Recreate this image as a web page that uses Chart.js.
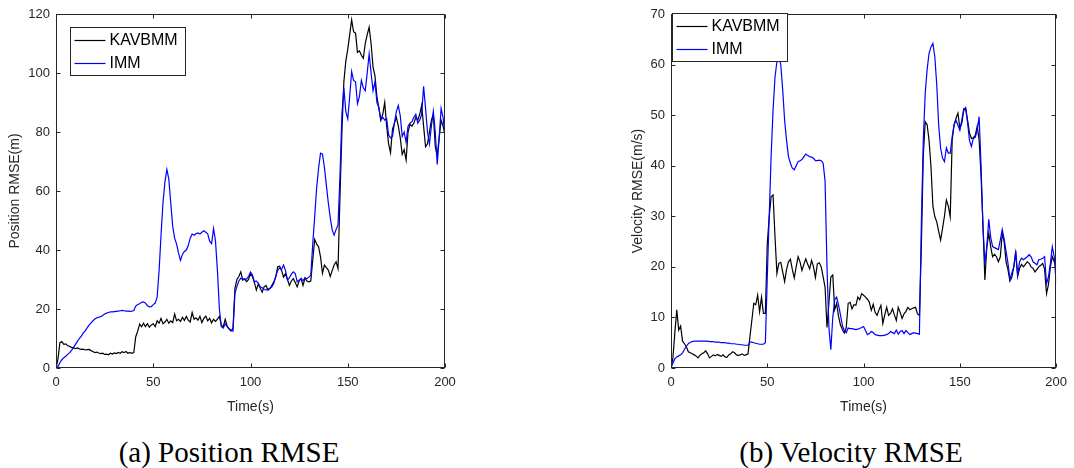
<!DOCTYPE html>
<html>
<head>
<meta charset="utf-8">
<title>RMSE comparison</title>
<script src="https://cdn.jsdelivr.net/npm/chart.js@4/dist/chart.umd.min.js"></script>
<style>
  body {
    margin: 0;
    background: #fff;
    width: 1074px;
    height: 468px;
    position: relative;
    overflow: hidden;
  }
  canvas {
    position: absolute;
    top: 0;
  }
  .caption {
    position: absolute;
    top: 436px;
    width: 400px;
    text-align: center;
    font-family: "Liberation Serif", "Times New Roman", serif;
    font-size: 29px;
    line-height: 33px;
    color: #000;
  }
</style>
</head>
<body>
<canvas id="posChart" width="537" height="430" style="left:0"></canvas>
<canvas id="velChart" width="537" height="430" style="left:537px"></canvas>
<div class="caption" style="left:29px">(a) Position RMSE</div>
<div class="caption" style="left:651px">(b) Velocity RMSE</div>

<script>
// sample times, one per second
const time = Array.from({ length: 201 }, (_, i) => i);

const seriesNames = ["KAVBMM", "IMM"];
const seriesColors = ["#000000", "#0000ff"];

// position RMSE (m)
const posKavbmm = [
  0, 3, 8.6, 9.0, 8.0, 8.2, 7.6, 7.3, 7.0, 6.8,
  6.6, 6.8, 6.5, 6.3, 6.4, 6.1, 6.2, 6.3, 5.9, 5.6,
  5.2, 5.4, 5.1, 4.9, 5.0, 4.6, 4.7, 4.5, 5.0, 4.7,
  5.1, 4.9, 5.3, 5.0, 5.5, 5.2, 5.6, 5.0, 5.3, 5.0,
  5.2, 10.6, 12.5, 14.9, 14.0, 15.2, 14.0, 15.0, 13.8, 14.6,
  15.0, 14.0, 16.0, 15.2, 16.8, 15.0, 15.6, 16.5, 15.2, 16.0,
  15.4, 18.3, 16.0, 16.5, 15.8, 17.2, 16.1, 17.5, 16.2, 15.6,
  18.8, 16.5, 17.0, 16.2, 17.5, 15.4, 16.8, 17.6, 16.0, 16.8,
  15.3, 16.5, 15.8, 16.6, 17.5, 14.5, 14.0, 16.5, 14.2, 13.2,
  12.5, 13.5, 27.0, 30.0, 31.0, 32.6, 29.8, 30.2, 29.2, 30.0,
  32.0, 31.0, 29.0, 26.4, 28.5, 27.0, 25.7, 27.5, 28.0, 26.4,
  27.0, 28.0, 29.2, 31.0, 34.3, 34.5, 33.0, 30.8, 32.0, 30.0,
  28.0, 29.5, 30.3, 29.0, 27.5, 29.5, 30.3, 28.0, 30.5, 29.5,
  29.2, 29.5, 36.6, 43.6, 42.0, 41.1, 37.7, 32.1, 34.9, 34.0,
  33.2, 31.0, 33.0, 34.9, 36.0, 33.7, 58.0, 80.0, 97.0, 104.0,
  108.0, 113.0, 118.0, 114.0, 113.5, 107.0, 107.5, 106.0, 105.0, 110.0,
  113.0, 115.5, 110.0, 102.0, 99.0, 92.0, 88.0, 84.0, 86.0, 90.0,
  82.0, 76.0, 73.0, 81.0, 83.0, 85.0, 82.0, 78.0, 72.4, 74.0,
  70.5, 80.0, 82.6, 82.0, 83.0, 85.0, 84.0, 86.0, 89.0, 82.0,
  75.0, 76.0, 80.0, 84.0, 86.0, 75.0, 72.0, 78.0, 84.0, 82.0,
  79.0
];
const posImm = [
  0, 0.5, 1.8, 2.8, 3.5, 4.0, 4.6, 5.2, 6.0, 7.0,
  8.0, 9.0, 10.0, 10.8, 11.8, 12.6, 13.6, 14.5, 15.3, 16.0,
  16.6, 17.0, 17.2, 17.4, 17.8, 18.3, 18.6, 18.8, 19.0, 19.0,
  19.1, 19.2, 19.3, 19.4, 19.5, 19.4, 19.3, 19.3, 19.2, 19.3,
  19.5, 21.0, 21.5, 21.8, 22.3, 22.4, 22.0, 21.2, 20.7, 20.8,
  21.5, 22.0, 24.0, 33.0, 45.0, 56.0, 63.0, 67.3, 64.0, 56.0,
  48.0, 44.0, 42.0, 39.0, 36.5, 38.5, 39.5, 40.0, 41.5, 44.0,
  45.4, 45.0, 45.6, 45.8, 45.4, 46.0, 46.5, 46.0, 45.5, 43.0,
  42.2, 47.3, 43.0, 33.0, 20.0, 14.0, 13.5, 15.0, 14.0, 13.4,
  12.8, 12.5, 25.3, 27.6, 29.5, 30.4, 30.2, 30.0, 30.2, 31.0,
  32.5, 31.5, 29.2, 29.5, 28.7, 27.5, 27.2, 26.6, 26.5, 26.8,
  27.0, 27.5, 28.7, 31.0, 33.2, 33.9, 33.5, 34.9, 33.0, 29.8,
  30.5, 31.8, 32.6, 32.0, 29.2, 29.8, 30.3, 29.6, 30.5, 30.3,
  30.8, 31.4, 42.0, 51.3, 61.0, 67.7, 72.8, 72.5, 68.0, 62.0,
  56.0, 51.0, 46.8, 45.0, 47.0, 48.5, 65.0, 86.0, 95.0, 87.0,
  84.4, 92.0, 100.5, 97.5, 97.0, 89.6, 92.0, 97.5, 95.0, 94.0,
  100.0, 106.5, 100.0, 94.0, 97.0, 90.0, 88.3, 84.0, 85.0, 84.0,
  84.5, 79.0, 78.0, 78.5, 83.0, 87.0, 89.0, 85.5, 78.5, 80.0,
  76.5, 82.0, 83.0, 83.5, 85.0, 86.0, 83.0, 84.0, 86.0, 95.5,
  88.0, 80.0, 76.0, 82.0, 87.0, 80.0, 69.0, 78.0, 88.0, 85.0,
  79.0
];

// velocity RMSE (m/s)
const velKavbmm = [
  0, 2.0, 7.0, 11.5, 7.5, 8.3, 5.3, 4.8, 4.2, 3.2,
  3.0, 2.8, 2.6, 2.4, 2.0, 2.5, 2.8, 3.0, 3.4, 2.8,
  2.0, 2.3, 2.6, 2.4, 2.7, 2.5, 2.3, 2.6, 2.2, 2.1,
  2.6, 2.8, 3.2, 3.0, 2.6, 2.5, 2.6, 2.8, 2.5, 2.6,
  2.8, 6.2, 9.5, 12.8, 12.5, 14.4, 11.1, 14.0, 10.8, 10.8,
  24.6, 29.9, 33.9, 34.2, 26.0, 18.7, 20.7, 20.9, 19.0, 17.1,
  19.5, 21.0, 21.5, 19.5, 17.8, 20.0, 22.0, 21.0, 19.3, 20.5,
  21.6, 20.5, 19.6, 21.3, 20.0, 17.9, 20.6, 20.8, 20.0, 18.0,
  16.0, 8.0, 12.9, 18.0, 18.4, 11.5, 12.8, 10.2, 8.5, 7.6,
  6.9, 8.0, 12.8, 13.0, 11.7, 12.5, 12.4, 14.0, 13.5, 14.7,
  14.4, 14.0, 13.6, 13.0, 11.4, 12.6, 11.0, 10.4, 11.5, 12.4,
  8.8, 10.5, 12.0, 10.4, 10.8, 11.7, 10.5, 9.4, 12.0, 11.0,
  9.8, 10.7, 11.2, 12.0, 11.5, 11.7, 11.9, 12.0, 10.7, 10.4,
  24.0, 41.9, 48.7, 48.1, 45.0, 39.8, 32.0, 29.9, 28.9, 27.0,
  25.3, 27.6, 30.0, 33.2, 32.0, 29.9, 45.0, 48.1, 49.4, 50.4,
  47.4, 48.4, 50.9, 51.5, 49.0, 46.5, 45.4, 45.5, 46.0, 47.8,
  45.1, 38.0, 28.0, 17.4, 24.0, 26.6, 24.0, 22.0, 22.5, 22.0,
  21.0, 22.0, 26.6, 25.0, 21.0, 19.4, 17.2, 18.0, 20.0, 22.7,
  18.1, 19.7, 20.5, 20.0, 20.5, 21.0, 20.7, 20.0, 19.7, 19.0,
  19.5, 20.0, 20.3, 20.7, 19.5, 14.7, 16.5, 20.0, 22.0, 21.0,
  20.0
];
const velImm = [
  0, 1.0, 1.8, 2.2, 2.4, 2.6, 3.0, 3.7, 4.3, 4.8,
  5.1, 5.2, 5.3, 5.3, 5.3, 5.3, 5.3, 5.3, 5.3, 5.3,
  5.2, 5.2, 5.2, 5.1, 5.1, 5.1, 5.0, 5.0, 5.0, 4.9,
  4.9, 4.8, 4.8, 4.8, 4.7, 4.7, 4.6, 4.6, 4.5, 4.5,
  4.5, 5.1, 5.1, 5.0, 4.9, 4.8, 4.7, 4.7, 4.7, 5.0,
  18.0, 30.0, 42.0, 51.0, 57.5, 60.6, 61.6, 60.0, 55.0, 49.0,
  45.0, 41.8, 40.5, 39.5, 39.2, 40.0, 40.8, 41.0, 41.2, 41.8,
  42.3, 42.0, 41.8, 41.7, 41.5, 41.0, 41.0, 41.1, 41.0, 40.5,
  37.0, 20.0, 8.0, 3.6, 10.0, 13.5, 14.0, 12.5, 10.5, 8.4,
  7.4, 7.0, 7.9, 7.8, 7.8, 7.7, 7.6, 7.7, 7.8, 8.0,
  8.2, 7.4, 6.6, 6.8, 7.2, 7.0, 6.6, 6.5, 6.4, 6.4,
  6.4, 6.5, 6.6, 6.8, 7.2, 7.0, 6.8, 7.5, 6.7, 7.2,
  7.4, 6.8, 7.4, 7.0, 6.6, 6.8, 7.0, 6.9, 6.8, 6.7,
  28.6, 45.0, 54.3, 59.0, 62.2, 63.5, 64.2, 61.5, 56.0, 48.0,
  43.5, 41.5, 40.8, 43.5, 42.5, 42.5, 45.7, 48.1, 49.0, 48.0,
  47.0, 49.0, 51.3, 51.3, 48.5, 45.0, 43.8, 45.4, 45.6, 47.0,
  49.7, 40.0, 28.0, 20.7, 24.0, 29.4, 25.9, 24.0, 23.8, 23.6,
  23.4, 25.3, 27.4, 25.5, 23.0, 20.7, 17.5, 18.8, 20.0, 23.2,
  18.4, 21.0, 21.7, 21.4, 21.7, 22.0, 22.4, 22.0, 21.0, 20.7,
  20.4, 21.4, 21.5, 21.7, 22.0, 16.7, 18.0, 20.7, 24.0, 22.0,
  16.7
];

const axisColor = "#262626";
const tickFont = { family: "Liberation Sans", size: 13 };
const titleFont = { family: "Liberation Sans", size: 14 };

const toPoints = (values) => values.map((v, i) => ({ x: time[i], y: v }));

// closed box round the plot area, ticks pointing inwards on every side
const boxAxes = {
  id: "boxAxes",
  afterDatasetsDraw(chart) {
    const { ctx, chartArea: a, scales } = chart;
    const left = Math.round(a.left) + 0.5;
    const right = Math.round(a.right) - 0.5;
    const top = Math.round(a.top) + 0.5;
    const bottom = Math.round(a.bottom) - 0.5;
    const len = 4;
    ctx.save();
    ctx.strokeStyle = axisColor;
    ctx.lineWidth = 1;
    ctx.beginPath();
    for (const t of scales.x.ticks) {
      const px = Math.round(scales.x.getPixelForValue(t.value)) + 0.5;
      ctx.moveTo(px, bottom);
      ctx.lineTo(px, bottom - len);
      ctx.moveTo(px, top);
      ctx.lineTo(px, top + len);
    }
    for (const t of scales.y.ticks) {
      const py = Math.round(scales.y.getPixelForValue(t.value)) + 0.5;
      ctx.moveTo(left, py);
      ctx.lineTo(left + len, py);
      ctx.moveTo(right, py);
      ctx.lineTo(right - len, py);
    }
    ctx.stroke();
    ctx.strokeRect(left, top, right - left, bottom - top);
    ctx.restore();
  },
};

// legend box sitting inside the plot area
const boxLegend = {
  id: "boxLegend",
  afterDraw(chart, args, opts) {
    const { ctx, chartArea } = chart;
    const x = Math.round(chartArea.left + opts.x) + 0.5;
    const y = Math.round(chartArea.top + opts.y) + 0.5;
    ctx.save();
    ctx.fillStyle = "#fff";
    ctx.fillRect(x, y, opts.width, opts.height);
    ctx.strokeStyle = axisColor;
    ctx.lineWidth = 1;
    ctx.strokeRect(x, y, opts.width, opts.height);
    ctx.font = '16px "Liberation Sans"';
    ctx.textBaseline = "middle";
    chart.data.datasets.forEach((ds, i) => {
      const rowY = y + 13 + i * 23;
      ctx.strokeStyle = ds.borderColor;
      ctx.lineWidth = 1.2;
      ctx.beginPath();
      ctx.moveTo(x + 4, rowY);
      ctx.lineTo(x + 35, rowY);
      ctx.stroke();
      ctx.fillStyle = "#000";
      ctx.fillText(ds.label, x + 39, rowY);
    });
    ctx.restore();
  },
};

function makeChart(id, series, yMax, yStep, yTitle, pad, legendPos) {
  return new Chart(document.getElementById(id), {
    type: "line",
    data: {
      datasets: series.map((values, i) => ({
        label: seriesNames[i],
        data: toPoints(values),
        borderColor: seriesColors[i],
        borderWidth: 1.2,
        pointRadius: 0,
        tension: 0,
        order: series.length - 1 - i,
      })),
    },
    options: {
      responsive: false,
      animation: false,
      devicePixelRatio: 1,
      layout: { padding: pad },
      plugins: {
        legend: { display: false },
        tooltip: { enabled: false },
        boxLegend: legendPos,
      },
      scales: {
        x: {
          type: "linear",
          min: 0,
          max: 200,
          grid: { display: false, drawTicks: false },
          border: { display: false },
          ticks: { stepSize: 50, color: axisColor, font: tickFont, padding: 7, maxRotation: 0 },
          title: { display: true, text: "Time(s)", color: axisColor, font: titleFont, padding: 0 },
          afterFit: (scale) => { scale.height = 48; },
        },
        y: {
          min: 0,
          max: yMax,
          grid: { display: false, drawTicks: false },
          border: { display: false },
          ticks: { stepSize: yStep, color: axisColor, font: tickFont, padding: 6 },
          title: { display: true, text: yTitle, color: axisColor, font: titleFont, padding: 0 },
          afterFit: (scale) => { scale.width = pad.axisWidth; },
        },
      },
    },
    plugins: [boxAxes, boxLegend],
  });
}

makeChart(
  "posChart",
  [posKavbmm, posImm],
  120, 20,
  "Position RMSE(m)",
  { left: 7, right: 92, top: 14, bottom: 14, axisWidth: 49 },
  { x: 14, y: 13, width: 115, height: 48 }
);

makeChart(
  "velChart",
  [velKavbmm, velImm],
  70, 10,
  "Velocity RMSE(m/s)",
  { left: 93, right: 14, top: 14, bottom: 14, axisWidth: 41 },
  { x: 1, y: -1.5, width: 115, height: 48 }
);
</script>
</body>
</html>
